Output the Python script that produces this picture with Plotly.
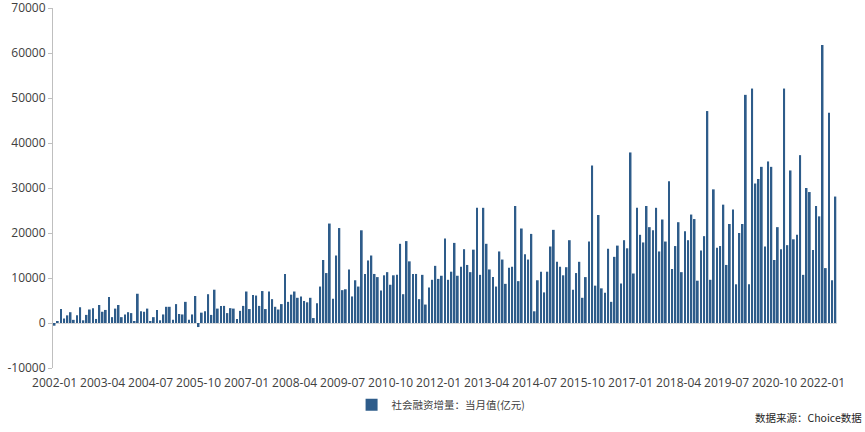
import plotly.graph_objects as go

# Monthly values (亿元), 2002-01 .. 2022-05
v2002 = [-600, 300, 3100, 1000, 1700, 2400, 700, 1700, 3500, 600, 1800, 3000]
v2003 = [3300, 900, 4000, 2500, 2900, 5800, 1300, 3200, 4000, 1300, 1900, 2400]
v2004 = [2200, 400, 6500, 2600, 2500, 3200, 400, 1300, 2900, 600, 1900, 3600]
v2005 = [3600, 700, 4200, 2000, 1900, 4700, 700, 1900, 6000, -900, 2300, 2600]
v2006 = [6400, 1800, 7400, 3200, 3800, 3800, 2200, 3300, 3200, 900, 2700, 3800]
v2007 = [7000, 3100, 6200, 6100, 3800, 7100, 3100, 7000, 5300, 3600, 3000, 4200]
v2008 = [10900, 4700, 6300, 7000, 5600, 5900, 4900, 4600, 5600, 1100, 4400, 8100]
v2009 = [14000, 11100, 22100, 5400, 15000, 21100, 7300, 7500, 11900, 5900, 9500, 8100]
v2010 = [20600, 10900, 13900, 15000, 10900, 10200, 7200, 10600, 11300, 8500, 10600, 10700]
v2011 = [17600, 6400, 18200, 13700, 10900, 10900, 5300, 10700, 4100, 7900, 9600, 12700]
v2012 = [9800, 10500, 18800, 9600, 11400, 17800, 10500, 12500, 16400, 12900, 11300, 16300]
v2013 = [25600, 10700, 25600, 17600, 11900, 10200, 8100, 15900, 14100, 8700, 12300, 12500]
v2014 = [26000, 9300, 21000, 15300, 14100, 19800, 2600, 9500, 11400, 6800, 11400, 17000]
v2015 = [20700, 13600, 12500, 10600, 12400, 18400, 7400, 11100, 13600, 5600, 10200, 18100]
v2016 = [35000, 8300, 24000, 7700, 6700, 16500, 4700, 14700, 17200, 8800, 18400, 16600]
v2017 = [37900, 11000, 25600, 19600, 17900, 26000, 21300, 20600, 25600, 15900, 23000, 18100]
v2018 = [31500, 12000, 17100, 22400, 11300, 20400, 18400, 24100, 23100, 9400, 16100, 19300]
v2019 = [47100, 9600, 29700, 16700, 17100, 26300, 12900, 22000, 25200, 8600, 20000, 22000]
v2020 = [50700, 8600, 52100, 31000, 32000, 34700, 17000, 35900, 34700, 14000, 21300, 16400]
v2021 = [52100, 17300, 33900, 18600, 19600, 37300, 10700, 30000, 29100, 16200, 26000, 23700]
v2022 = [61800, 12200, 46700, 9500, 28100]

values = (v2002 + v2003 + v2004 + v2005 + v2006 + v2007 + v2008 + v2009 + v2010 +
          v2011 + v2012 + v2013 + v2014 + v2015 + v2016 + v2017 + v2018 + v2019 +
          v2020 + v2021 + v2022)

months = []
y, m = 2002, 1
for _ in values:
    months.append(f"{y}-{m:02d}")
    m += 1
    if m > 12:
        m = 1
        y += 1

tick_labels = ["2002-01", "2003-04", "2004-07", "2005-10", "2007-01", "2008-04",
               "2009-07", "2010-10", "2012-01", "2013-04", "2014-07", "2015-10",
               "2017-01", "2018-04", "2019-07", "2020-10", "2022-01"]
y_ticks = [-10000, 0, 10000, 20000, 30000, 40000, 50000, 60000, 70000]

series_name = "社会融资增量：当月值(亿元)"
source_text = "数据来源：Choice数据"

font_family = "Open Sans, Noto Sans CJK SC, sans-serif"
cjk_family = "Noto Sans CJK SC, sans-serif"
text_color = "#404040"

fig = go.Figure()
fig.add_trace(go.Bar(
    x=months, y=values, name=series_name,
    marker=dict(color="#2E5C8A", line=dict(width=0)),
))

fig.update_layout(
    width=865, height=432,
    margin=dict(l=53, r=28, t=8, b=64, autoexpand=False),
    plot_bgcolor="white", paper_bgcolor="white",
    bargap=0.45,
    font=dict(family=font_family, size=12, color=text_color),
    showlegend=True,
    legend=dict(orientation="h", x=0.495, xanchor="center", y=-0.102, yanchor="middle",
                itemwidth=30, bgcolor="rgba(0,0,0,0)",
                font=dict(family=cjk_family, size=10.5, color=text_color)),
    xaxis=dict(
        type="category", range=[-0.5, len(values) - 0.5],
        tickmode="array", tickvals=tick_labels, ticktext=tick_labels,
        showline=False, showgrid=False, ticks="", tickangle=0,
        ticklabelstandoff=6, automargin=False,
        tickfont=dict(size=12, color=text_color),
    ),
    yaxis=dict(
        range=[-10000, 70000], tickmode="array", tickvals=y_ticks,
        ticktext=[str(t) for t in y_ticks], automargin=False,
        ticklabeloverflow="allow",
        showgrid=False, showline=True, linecolor="#bfbfbf", linewidth=1,
        ticks="outside", ticklen=4, tickcolor="#bfbfbf",
        zeroline=True, zerolinecolor="#d9d9d9", zerolinewidth=1,
        tickfont=dict(size=12, color=text_color),
    ),
    annotations=[dict(
        text=source_text, xref="paper", yref="paper", x=1.034, y=-0.138,
        xanchor="right", yanchor="middle", showarrow=False,
        font=dict(family=cjk_family, size=10.5, color="#262626"),
    )],
)

fig.write_html("out.html",
               config={"displayModeBar": False},
               post_script="document.body.style.margin='0';document.body.style.overflow='hidden';")
